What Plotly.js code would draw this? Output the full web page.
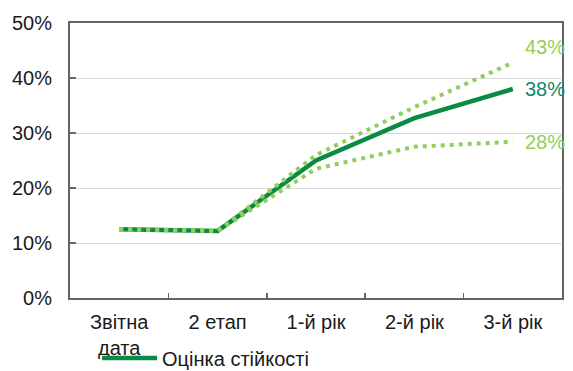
<!DOCTYPE html>
<html><head><meta charset="utf-8">
<script src="https://cdn.plot.ly/plotly-3.0.1.min.js"></script>
<style>html,body{margin:0;padding:0;background:#fff}</style>
</head><body><div id="chart" style="width:573px;height:371px"></div>
<script>
var categories = ['Звітна<br>дата', '2 етап', '1-й рік', '2-й рік', '3-й рік'];
var mainValues = [0.125, 0.122, 0.25, 0.327, 0.38];
var upperValues = [0.125, 0.122, 0.26, 0.347, 0.428];
var lowerValues = [0.125, 0.122, 0.235, 0.275, 0.284];
var seriesName = 'Оцінка стійкості';
var endLabels = ['43%', '38%', '28%'];
var yTickVals = [0, 0.1, 0.2, 0.3, 0.4, 0.5];
var yTickText = ['0%', '10%', '20%', '30%', '40%', '50%'];

var darkGreen = '#0a8a43';
var lightGreen = '#8fcf5c';
var font = {family: 'Liberation Sans, Arial, sans-serif', size: 20, color: '#1a1a1a'};

var traces = [
  {x: categories, y: mainValues, type: 'scatter', mode: 'lines', name: seriesName,
   line: {color: darkGreen, width: 4.5}, showlegend: true},
  {x: categories, y: upperValues, type: 'scatter', mode: 'lines', name: 'upper',
   line: {color: lightGreen, width: 4, dash: '4px,5px'}, showlegend: false},
  {x: categories, y: lowerValues, type: 'scatter', mode: 'lines', name: 'lower',
   line: {color: lightGreen, width: 4, dash: '4px,5px'}, showlegend: false}
];

var last = categories.length - 1;
var endVals = [upperValues[last], mainValues[last], lowerValues[last]];
var endColors = [lightGreen, '#14876a', lightGreen];
var endShifts = [16, 0, 0];
var annotations = endLabels.map(function (t, i) {
  return {x: categories[last], y: endVals[i], text: t, showarrow: false,
    xanchor: 'left', yanchor: 'middle', xshift: 10, yshift: endShifts[i],
    font: {family: font.family, size: 20, color: endColors[i]}};
});

var layout = {
  width: 573, height: 371,
  margin: {l: 70, r: 11, t: 23, b: 73, autoexpand: false},
  paper_bgcolor: '#fff', plot_bgcolor: '#fff',
  font: font,
  showlegend: true,
  legend: {x: 0.055, y: -0.218, xanchor: 'left', yanchor: 'middle',
    font: {family: font.family, size: 20, color: '#1a1a1a'},
    bgcolor: 'rgba(0,0,0,0)', itemwidth: 55},
  xaxis: {type: 'category', showline: true, linecolor: '#666', linewidth: 2, mirror: true,
    showgrid: false, ticks: 'inside', tickcolor: '#666', ticklen: 5, tickwidth: 1.5,
    tickson: 'boundaries', tickfont: font, ticklabelstandoff: 5, tickangle: 0,
    range: [-0.5, 4.5], zeroline: false},
  yaxis: {range: [0, 0.5], tickvals: yTickVals, ticktext: yTickText, showline: true,
    linecolor: '#666', linewidth: 2, mirror: true, showgrid: true, gridcolor: '#d9d9d9',
    gridwidth: 1, ticks: 'inside', tickcolor: '#666', ticklen: 6, tickwidth: 1.5,
    tickfont: font, ticklabelstandoff: 12, zeroline: false},
  annotations: annotations
};

Plotly.newPlot('chart', traces, layout, {staticPlot: true});
</script></body></html>
